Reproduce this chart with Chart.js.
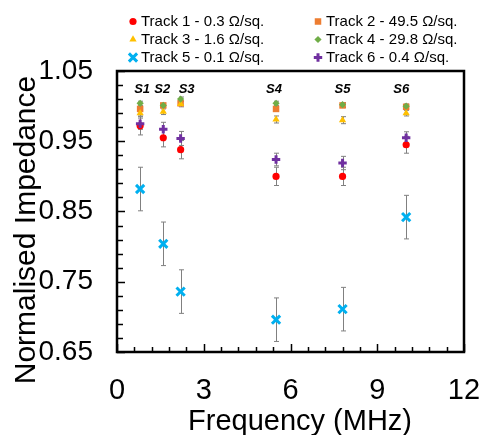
<!DOCTYPE html>
<html>
<head>
<title>Normalised Impedance</title>
<script src="https://cdn.jsdelivr.net/npm/chart.js"></script>
<style>
html, body { margin: 0; padding: 0; background: #fff; }
</style>
</head>
<body>
<canvas id="chart" width="483" height="435"></canvas>
<script>
// sites S1..S6 and their frequency (MHz)
const siteLabels = ['S1', 'S2', 'S3', 'S4', 'S5', 'S6'];
const frequencies = [0.8, 1.6, 2.2, 5.5, 7.8, 10.0];

const trackNames = [
    'Track 1 - 0.3 Ω/sq.',
    'Track 2 - 49.5 Ω/sq.',
    'Track 3 - 1.6 Ω/sq.',
    'Track 4 - 29.8 Ω/sq.',
    'Track 5 - 0.1 Ω/sq.',
    'Track 6 - 0.4 Ω/sq.'
];

const track1 = [0.972, 0.955, 0.938, 0.900, 0.900, 0.945];
const track2 = [0.996, 1.001, 1.004, 0.996, 1.001, 0.999];
const track3 = [0.990, 0.992, 1.003, 0.981, 0.980, 0.990];
const track4 = [1.004, 1.001, 1.010, 1.004, 1.002, 1.000];
const track5 = [0.882, 0.804, 0.736, 0.696, 0.711, 0.842];
const track6 = [0.975, 0.967, 0.954, 0.924, 0.919, 0.955];

// +/- error
const track1Err = [0.013, 0.013, 0.013, 0.013, 0.013, 0.012];
const track2Err = [0.003, 0.003, 0.003, 0.003, 0.003, 0.003];
const track3Err = [0.004, 0.004, 0.004, 0.005, 0.005, 0.004];
const track4Err = [0.003, 0.003, 0.003, 0.003, 0.003, 0.003];
const track5Err = [0.031, 0.031, 0.031, 0.031, 0.031, 0.031];
const track6Err = [0.008, 0.010, 0.010, 0.009, 0.0095, 0.0085];

const xTicks = [0, 3, 6, 9, 12];
const yTicks = [0.65, 0.75, 0.85, 0.95, 1.05];

const FONT = '"Liberation Sans", Arial, sans-serif';

const styles = [
    { color: '#FF0000', pointStyle: 'circle', radius: 3.6, bw: 0 },
    { color: '#ED7D31', pointStyle: 'rect', radius: 4.6, bw: 0 },
    { color: '#FFC000', pointStyle: 'triangle', radius: 4.2, bw: 0 },
    { color: '#70AD47', pointStyle: 'rectRot', radius: 3.6, bw: 0 },
    { color: '#00B0F0', pointStyle: 'crossRot', radius: 5.8, bw: 3 },
    { color: '#7030A0', pointStyle: 'cross', radius: 4.2, bw: 3 }
];

// small hand placement of the S labels, px
const labelNudge = [2, -1, 6, -2, 0, -5];

const values = [track1, track2, track3, track4, track5, track6];
const errors = [track1Err, track2Err, track3Err, track4Err, track5Err, track6Err];

const datasets = values.map(function(vals, i) {
    return {
        label: trackNames[i],
        data: frequencies.map((f, j) => ({ x: f, y: vals[j] })),
        errors: errors[i],
        pointStyle: styles[i].pointStyle,
        pointRadius: styles[i].radius,
        pointBorderWidth: styles[i].bw,
        backgroundColor: styles[i].color,
        borderColor: styles[i].color,
        showLine: false,
        order: 6 - i
    };
});

function drawMarker(ctx, st, x, y) {
    ctx.save();
    ctx.fillStyle = st.color;
    ctx.strokeStyle = st.color;
    ctx.lineWidth = st.bw;
    if (Chart.helpers && Chart.helpers.drawPoint) {
        Chart.helpers.drawPoint(ctx, { pointStyle: st.pointStyle, radius: st.radius, rotation: 0, borderWidth: st.bw }, x, y);
    } else {
        ctx.beginPath();
        ctx.arc(x, y, st.radius, 0, Math.PI * 2);
        ctx.fill();
    }
    ctx.restore();
}

const extras = {
    id: 'extras',
    beforeDatasetsDraw(chart) {
        // error bars
        const ctx = chart.ctx;
        const xs = chart.scales.x, ys = chart.scales.y;
        ctx.save();
        ctx.strokeStyle = '#808080';
        ctx.lineWidth = 1;
        chart.data.datasets.forEach(function(ds) {
            ds.data.forEach(function(p, j) {
                const e = ds.errors[j];
                const px = Math.round(xs.getPixelForValue(p.x)) + 0.5;
                const top = ys.getPixelForValue(p.y + e);
                const bot = ys.getPixelForValue(p.y - e);
                ctx.beginPath();
                ctx.moveTo(px, top); ctx.lineTo(px, bot);
                ctx.moveTo(px - 2.5, top); ctx.lineTo(px + 2.5, top);
                ctx.moveTo(px - 2.5, bot); ctx.lineTo(px + 2.5, bot);
                ctx.stroke();
            });
        });
        ctx.restore();
    },
    afterDraw(chart) {
        const ctx = chart.ctx;
        const a = chart.chartArea;
        const xs = chart.scales.x, ys = chart.scales.y;
        ctx.save();

        // frame
        ctx.strokeStyle = '#000';
        ctx.lineWidth = 2.5;
        ctx.strokeRect(a.left, a.top, a.right - a.left, a.bottom - a.top);

        // inward tick marks
        ctx.lineWidth = 1.5;
        ctx.beginPath();
        for (let k = 0; k <= 20; k++) {
            const v = ys.min + k * 0.02;
            const py = Math.round(ys.getPixelForValue(v)) + 0.5;
            const len = (k % 5 === 0) ? 8 : 6;
            ctx.moveTo(a.left, py); ctx.lineTo(a.left + len, py);
        }
        for (let k = 0; k <= 20; k++) {
            const v = xs.min + k * 0.6;
            const px = Math.round(xs.getPixelForValue(v)) + 0.5;
            const len = (k % 5 === 0) ? 8 : 5;
            ctx.moveTo(px, a.bottom); ctx.lineTo(px, a.bottom - len);
        }
        ctx.stroke();

        // site labels
        ctx.fillStyle = '#000';
        ctx.font = 'italic bold 13px ' + FONT;
        ctx.textAlign = 'center';
        ctx.textBaseline = 'middle';
        siteLabels.forEach(function(s, i) {
            ctx.fillText(s, xs.getPixelForValue(frequencies[i]) + labelNudge[i], a.top + 18);
        });

        // legend, two columns
        ctx.font = '15px ' + FONT;
        ctx.textAlign = 'left';
        const colX = [133, 318];
        const rowY = [21.5, 39.5, 57.5];
        trackNames.forEach(function(name, i) {
            const cx = colX[i % 2], cy = rowY[Math.floor(i / 2)];
            drawMarker(ctx, styles[i], cx, cy);
            ctx.fillStyle = '#000';
            ctx.fillText(name, cx + 8, cy);
        });

        // axis titles
        ctx.font = '29px ' + FONT;
        ctx.textAlign = 'center';
        ctx.textBaseline = 'alphabetic';
        ctx.fillText('Frequency (MHz)', 300, 430);
        ctx.translate(35, 230);
        ctx.rotate(-Math.PI / 2);
        ctx.font = '30px ' + FONT;
        ctx.fillText('Normalised Impedance', 0, 0);
        ctx.restore();
    }
};

new Chart(document.getElementById('chart'), {
    type: 'scatter',
    data: { datasets: datasets },
    options: {
        responsive: false,
        animation: false,
        layout: { padding: { top: 71, right: 19, left: 0, bottom: 0 } },
        plugins: {
            legend: { display: false },
            tooltip: { enabled: false }
        },
        scales: {
            x: {
                type: 'linear',
                min: 0,
                max: 12,
                afterBuildTicks: s => { s.ticks = xTicks.map(v => ({ value: v })); },
                afterFit: s => { s.height = 83; s.paddingLeft = 0; s.paddingRight = 0; },
                grid: { display: false, drawTicks: false },
                border: { display: false },
                ticks: {
                    color: '#000',
                    font: { family: FONT, size: 29 },
                    padding: 22,
                    maxRotation: 0,
                    autoSkip: false
                }
            },
            y: {
                type: 'linear',
                min: 0.65,
                max: 1.05,
                afterBuildTicks: s => { s.ticks = yTicks.map(v => ({ value: v })); },
                afterFit: s => { s.width = 117; },
                grid: { display: false, drawTicks: false },
                border: { display: false },
                ticks: {
                    color: '#000',
                    font: { family: FONT, size: 28 },
                    padding: 24,
                    autoSkip: false,
                    callback: v => v.toFixed(2)
                }
            }
        }
    },
    plugins: [extras]
});
</script>
</body>
</html>
